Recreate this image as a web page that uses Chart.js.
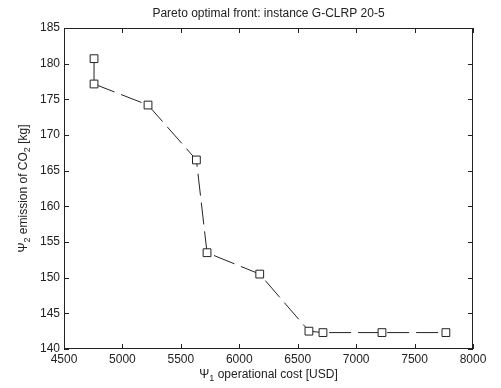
<!DOCTYPE html>
<html>
<head>
<meta charset="utf-8">
<script src="https://cdn.jsdelivr.net/npm/chart.js@4/dist/chart.umd.min.js"></script>
<style>
  html, body { margin: 0; padding: 0; background: #fff; }
  #wrap { width: 501px; height: 388px; }
</style>
</head>
<body>
<div id="wrap"><canvas id="paretoChart"></canvas></div>
<script>
// Pareto front points
const costUSD = [4757, 4757, 5219, 5633, 5724, 6175, 6596, 6716, 7221, 7768];
const co2Kg = [180.7, 177.15, 174.2, 166.5, 153.5, 150.5, 142.5, 142.3, 142.3, 142.3];

const xTicks = [4500, 5000, 5500, 6000, 6500, 7000, 7500, 8000];
const yTicks = [140, 145, 150, 155, 160, 165, 170, 175, 180, 185];

const chartTitle = 'Pareto optimal front: instance G-CLRP 20-5';
const fontFamily = '"Liberation Sans", Arial, Helvetica, sans-serif';
const ink = '#222';

// draws text with a lowered, smaller subscript part, e.g. [['Ψ', ''], ['1', 'sub'], ...]
function drawRichText(ctx, parts, x, y, size) {
    let total = 0;
    parts.forEach(p => {
        ctx.font = (p[1] === 'sub' ? size * 0.75 : size) + 'px ' + fontFamily;
        total += ctx.measureText(p[0]).width;
    });
    let cx = x - total / 2;
    parts.forEach(p => {
        const sub = p[1] === 'sub';
        ctx.font = (sub ? size * 0.75 : size) + 'px ' + fontFamily;
        ctx.fillText(p[0], cx, sub ? y + size * 0.3 : y);
        cx += ctx.measureText(p[0]).width;
    });
}

const matlabFrame = {
    id: 'matlabFrame',
    afterDraw(chart) {
        const ctx = chart.ctx;
        const area = chart.chartArea;
        const xs = chart.scales.x;
        const ys = chart.scales.y;
        ctx.save();
        ctx.strokeStyle = ink;
        ctx.lineWidth = 1;
        ctx.setLineDash([]);
        ctx.strokeRect(area.left + 0.5, area.top + 0.5, area.right - area.left - 1, area.bottom - area.top - 1);

        // inward ticks on all four sides
        const len = 5;
        ctx.beginPath();
        xs.ticks.forEach(t => {
            const px = Math.round(xs.getPixelForValue(t.value)) + 0.5;
            ctx.moveTo(px, area.bottom); ctx.lineTo(px, area.bottom - len);
            ctx.moveTo(px, area.top); ctx.lineTo(px, area.top + len);
        });
        ys.ticks.forEach(t => {
            const py = Math.round(ys.getPixelForValue(t.value)) + 0.5;
            ctx.moveTo(area.left, py); ctx.lineTo(area.left + len, py);
            ctx.moveTo(area.right, py); ctx.lineTo(area.right - len, py);
        });
        ctx.stroke();

        // title and axis titles
        ctx.fillStyle = ink;
        ctx.textBaseline = 'middle';
        ctx.textAlign = 'left';
        const midX = (area.left + area.right) / 2;
        drawRichText(ctx, [[chartTitle, '']], midX, 14, 12);
        drawRichText(ctx, [['Ψ', ''], ['1', 'sub'], [' operational cost [USD]', '']], midX, 375, 12);

        ctx.translate(24, (area.top + area.bottom) / 2);
        ctx.rotate(-Math.PI / 2);
        drawRichText(ctx, [['Ψ', ''], ['2', 'sub'], [' emission of CO', ''], ['2', 'sub'], [' [kg]', '']], 0, 0, 12);
        ctx.restore();
    }
};

const ctx = document.getElementById('paretoChart').getContext('2d');
const paretoChart = new Chart(ctx, {
    type: 'line',
    data: {
        datasets: [{
            label: 'Pareto front',
            data: costUSD.map((c, i) => ({ x: c, y: co2Kg[i] })),
            borderColor: ink,
            borderWidth: 1,
            borderDash: [22, 7],
            segment: {
                borderDash: c => c.p0DataIndex === 0 ? [] : [22, 7]
            },
            tension: 0,
            fill: false,
            pointStyle: 'rect',
            pointRadius: 5.5,
            pointBorderWidth: 1,
            pointBorderColor: ink,
            pointBackgroundColor: '#fff'
        }]
    },
    options: {
        responsive: true,
        maintainAspectRatio: false,
        animation: false,
        devicePixelRatio: 1,
        layout: { padding: { left: 0, top: 28, right: 28, bottom: 0 } },
        plugins: {
            legend: { display: false },
            title: { display: false },
            tooltip: { enabled: false }
        },
        scales: {
            x: {
                type: 'linear',
                min: 4500,
                max: 8000,
                afterBuildTicks: s => { s.ticks = xTicks.map(v => ({ value: v })); },
                afterFit: s => { s.height = 39; },
                grid: { display: false, drawTicks: false, tickLength: 0 },
                border: { display: false },
                ticks: {
                    autoSkip: false,
                    maxRotation: 0,
                    padding: 3,
                    color: ink,
                    font: { family: fontFamily, size: 12 },
                    callback: v => String(v)
                }
            },
            y: {
                min: 140,
                max: 185,
                afterBuildTicks: s => { s.ticks = yTicks.map(v => ({ value: v })); },
                afterFit: s => { s.width = 64; },
                grid: { display: false, drawTicks: false, tickLength: 0 },
                border: { display: false },
                ticks: {
                    autoSkip: false,
                    padding: 4,
                    color: ink,
                    font: { family: fontFamily, size: 12 },
                    callback: v => String(v)
                }
            }
        }
    },
    plugins: [matlabFrame]
});
</script>
</body>
</html>
